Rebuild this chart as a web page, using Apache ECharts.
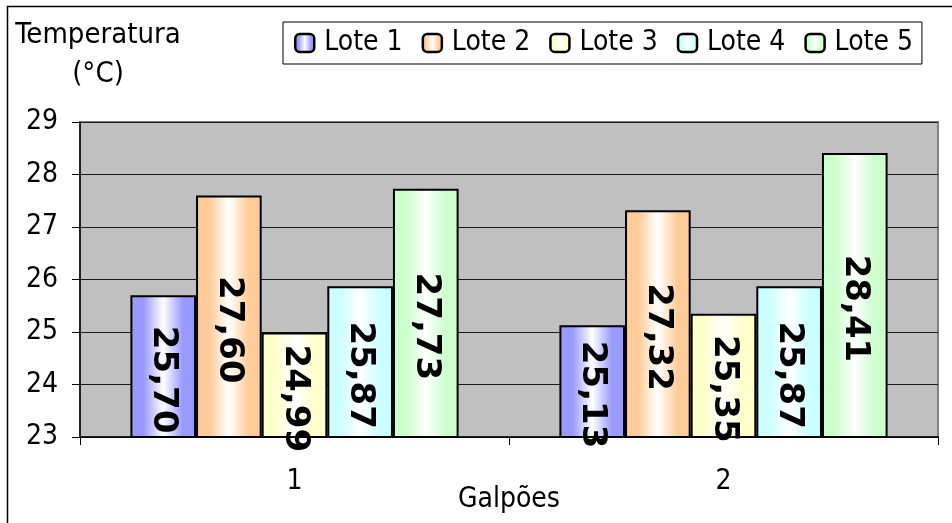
<!DOCTYPE html>
<html>
<head>
<meta charset="utf-8">
<style>
  html, body { margin: 0; padding: 0; background: #ffffff; }
  #chart { width: 952px; height: 523px; }
</style>
<script src="https://cdn.jsdelivr.net/npm/echarts@6/dist/echarts.min.js"></script>
</head>
<body>
<div id="chart"></div>
<script>
// Temperature per shed (galpão), one bar per batch (lote)
var categories = ['1', '2'];
var lote1 = [25.70, 25.13];
var lote2 = [27.60, 27.32];
var lote3 = [24.99, 25.35];
var lote4 = [25.87, 25.87];
var lote5 = [27.73, 28.41];
var yTicks = { min: 23, max: 29, step: 1 };

var seriesNames = ['Lote 1', 'Lote 2', 'Lote 3', 'Lote 4', 'Lote 5'];
var seriesData = [lote1, lote2, lote3, lote4, lote5];
var seriesColors = ['#9999ff', '#ffcc99', '#ffffcc', '#ccffff', '#ccffcc'];

var FONT = "'DejaVu Sans Condensed', 'DejaVu Sans', sans-serif";

function fill(color) {
  return {
    type: 'linear', x: 0, y: 0, x2: 1, y2: 0,
    colorStops: [
      { offset: 0, color: color },
      { offset: 0.2, color: color },
      { offset: 0.5, color: '#ffffff' },
      { offset: 0.8, color: color },
      { offset: 1, color: color }
    ]
  };
}

var chart = echarts.init(document.getElementById('chart'), null, { renderer: 'canvas' });

var series = seriesNames.map(function (name, i) {
  return {
    name: name,
    type: 'bar',
    data: seriesData[i],
    barGap: '0%',
    barCategoryGap: '23.5%',
    itemStyle: { color: fill(seriesColors[i]), borderColor: '#000', borderWidth: 2 },
    label: {
      show: true,
      position: 'inside',
      rotate: -90,
      offset: [13, 0],
      fontFamily: "'DejaVu Sans', sans-serif",
      fontWeight: 'bold',
      fontSize: 34,
      color: '#000',
      formatter: function (p) { return p.value.toFixed(2).replace('.', ','); }
    },
    emphasis: { disabled: true }
  };
});

chart.setOption({
  animation: false,
  backgroundColor: '#ffffff',
  textStyle: { fontFamily: FONT },
  graphic: [
    {
      type: 'rect', silent: true, z: -10,
      shape: { x: 7.5, y: 6.5, width: 1200, height: 1200 },
      style: { fill: 'none', stroke: '#000', lineWidth: 1.5 }
    },
    {
      type: 'text', x: 98, y: 16,
      style: {
        text: 'Temperatura\n(°C)',
        font: '29px ' + FONT,
        fill: '#000',
        align: 'center',
        verticalAlign: 'top',
        lineHeight: 39
      }
    }
  ],
  legend: {
    left: 283,
    top: 22,
    orient: 'horizontal',
    padding: [7, 9, 7, 11],
    itemWidth: 19,
    itemHeight: 18,
    itemGap: 19,
    borderColor: '#000',
    borderWidth: 1,
    backgroundColor: '#ffffff',
    itemStyle: { borderWidth: 2.5 },
    textStyle: { fontFamily: FONT, fontSize: 28, color: '#000', padding: [0, 0, 0, 5] },
    data: seriesNames
  },
  grid: {
    left: 80, right: 14, top: 122, bottom: 86,
    outerBoundsMode: 'none',
    containLabel: false,
    show: true,
    backgroundColor: '#c0c0c0',
    borderColor: '#808080',
    borderWidth: 2
  },
  xAxis: {
    type: 'category',
    data: categories,
    name: 'Galpões',
    nameLocation: 'middle',
    nameGap: 49,
    nameMoveOverlap: false,
    nameTextStyle: { fontFamily: FONT, fontSize: 28, color: '#000' },
    axisLine: { lineStyle: { color: '#000', width: 1.5 } },
    axisTick: { show: true, length: 8, lineStyle: { color: '#000' } },
    axisLabel: { fontFamily: FONT, fontSize: 28, color: '#000', margin: 31 }
  },
  yAxis: {
    type: 'value',
    min: yTicks.min,
    max: yTicks.max,
    interval: yTicks.step,
    axisLine: { show: true, lineStyle: { color: '#000', width: 1.5 } },
    axisTick: { show: true, length: 8, lineStyle: { color: '#000' } },
    axisLabel: { fontFamily: FONT, fontSize: 28, color: '#000', margin: 22 },
    splitLine: { show: true, lineStyle: { color: '#1a1a1a', width: 1 } }
  },
  series: series
});
</script>
</body>
</html>
